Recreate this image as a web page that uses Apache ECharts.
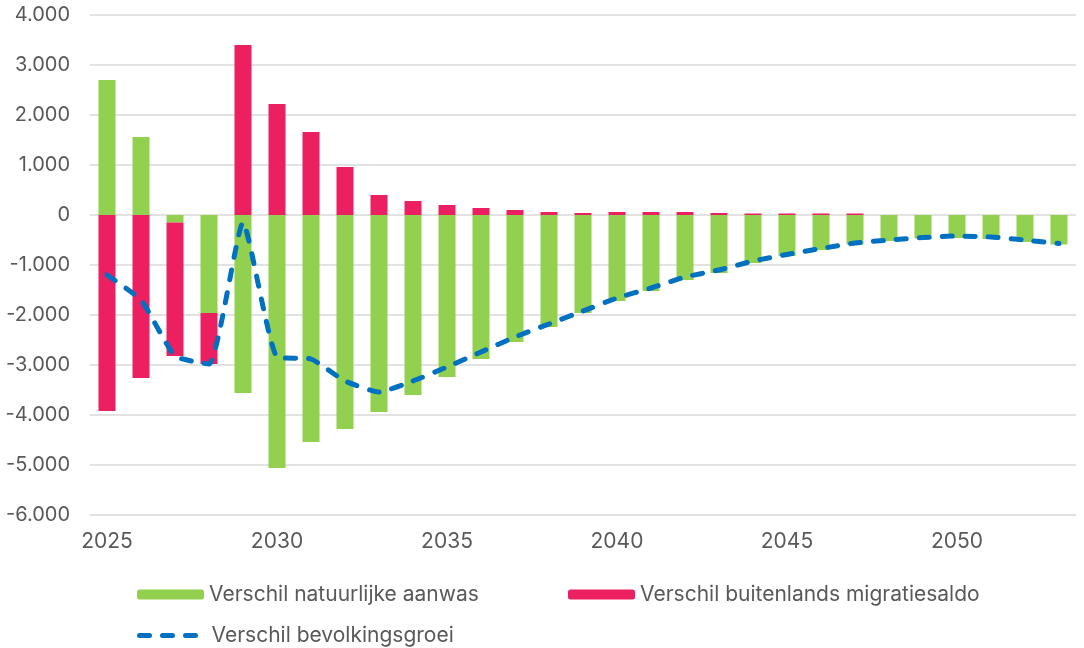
<!DOCTYPE html>
<html>
<head>
<meta charset="utf-8">
<script src="https://cdn.jsdelivr.net/npm/echarts@6/dist/echarts.min.js"></script>
<style>
  html, body { margin: 0; padding: 0; background: #fff; }
  #chart { width: 1084px; height: 648px; }
</style>
</head>
<body>
<div id="chart"></div>
<script>
// jaren 2025 - 2053
var years = [];
for (var y = 2025; y <= 2053; y++) years.push(String(y));

var natuurlijkeAanwas = [2700, 1560, -150, -1960, -3560, -5060, -4540, -4280, -3940, -3600,
  -3240, -2880, -2540, -2240, -1960, -1720, -1520, -1300, -1160, -960,
  -820, -700, -590, -520, -470, -460, -480, -540, -590];

var migratieSaldo = [-3920, -3260, -2670, -1020, 3400, 2220, 1660, 960, 400, 280,
  200, 140, 100, 60, 40, 60, 60, 60, 40, 30,
  30, 30, 30, 0, 0, 0, 0, 0, 0];

var bevolkingsgroei = [-1200, -1700, -2820, -2980, -150, -2840, -2880, -3320, -3540, -3320,
  -3040, -2740, -2440, -2180, -1920, -1660, -1460, -1240, -1100, -920,
  -790, -670, -560, -500, -450, -420, -440, -500, -570];

var fmt = function (v) {
  var s = Math.abs(v).toString().replace(/\B(?=(\d{3})+(?!\d))/g, '.');
  return (v < 0 ? '-' : '') + s;
};

var textColor = '#595959';
var fontFam = 'Inter, Roboto, sans-serif';
var legendText = { color: textColor, fontSize: 21, fontFamily: fontFam };
var dashStyle = { color: '#0070c0', width: 5, type: [10, 13], cap: 'round' };

var option = {
  animation: false,
  grid: { left: 90, right: 8, top: 15, bottom: 133 },
  legend: [
    {
      data: ['Verschil natuurlijke aanwas'],
      left: 132, top: 579, itemWidth: 67, itemHeight: 10,
      textStyle: legendText
    },
    {
      data: ['Verschil buitenlands migratiesaldo'],
      left: 563, top: 579, itemWidth: 67, itemHeight: 10,
      textStyle: legendText
    },
    {
      data: ['Verschil bevolkingsgroei'],
      left: 132, top: 620, itemWidth: 67, itemHeight: 10,
      itemStyle: { opacity: 0 },
      lineStyle: dashStyle,
      textStyle: legendText
    }
  ],
  xAxis: {
    type: 'category',
    data: years,
    axisLine: { show: false, onZero: false },
    axisTick: { show: false },
    axisLabel: {
      interval: 4, margin: 16,
      color: textColor, fontSize: 21, fontFamily: fontFam
    }
  },
  yAxis: {
    type: 'value',
    min: -6000, max: 4000, interval: 1000,
    axisLabel: {
      formatter: fmt, margin: 20,
      color: textColor, fontSize: 20, fontFamily: fontFam
    },
    splitLine: { lineStyle: { color: '#d9d9d9', width: 1.5 } }
  },
  series: [
    {
      name: 'Verschil natuurlijke aanwas',
      type: 'bar', stack: 'totaal', barWidth: '50%',
      itemStyle: { color: '#92d050' },
      data: natuurlijkeAanwas
    },
    {
      name: 'Verschil buitenlands migratiesaldo',
      type: 'bar', stack: 'totaal', barWidth: '50%',
      itemStyle: { color: '#ec1f61' },
      data: migratieSaldo
    },
    {
      name: 'Verschil bevolkingsgroei',
      type: 'line', symbol: 'none', smooth: 0.15,
      lineStyle: dashStyle,
      itemStyle: { color: '#0070c0' },
      data: bevolkingsgroei,
      z: 5
    }
  ]
};

var myChart = echarts.init(document.getElementById('chart'));
myChart.setOption(option);
</script>
</body>
</html>
